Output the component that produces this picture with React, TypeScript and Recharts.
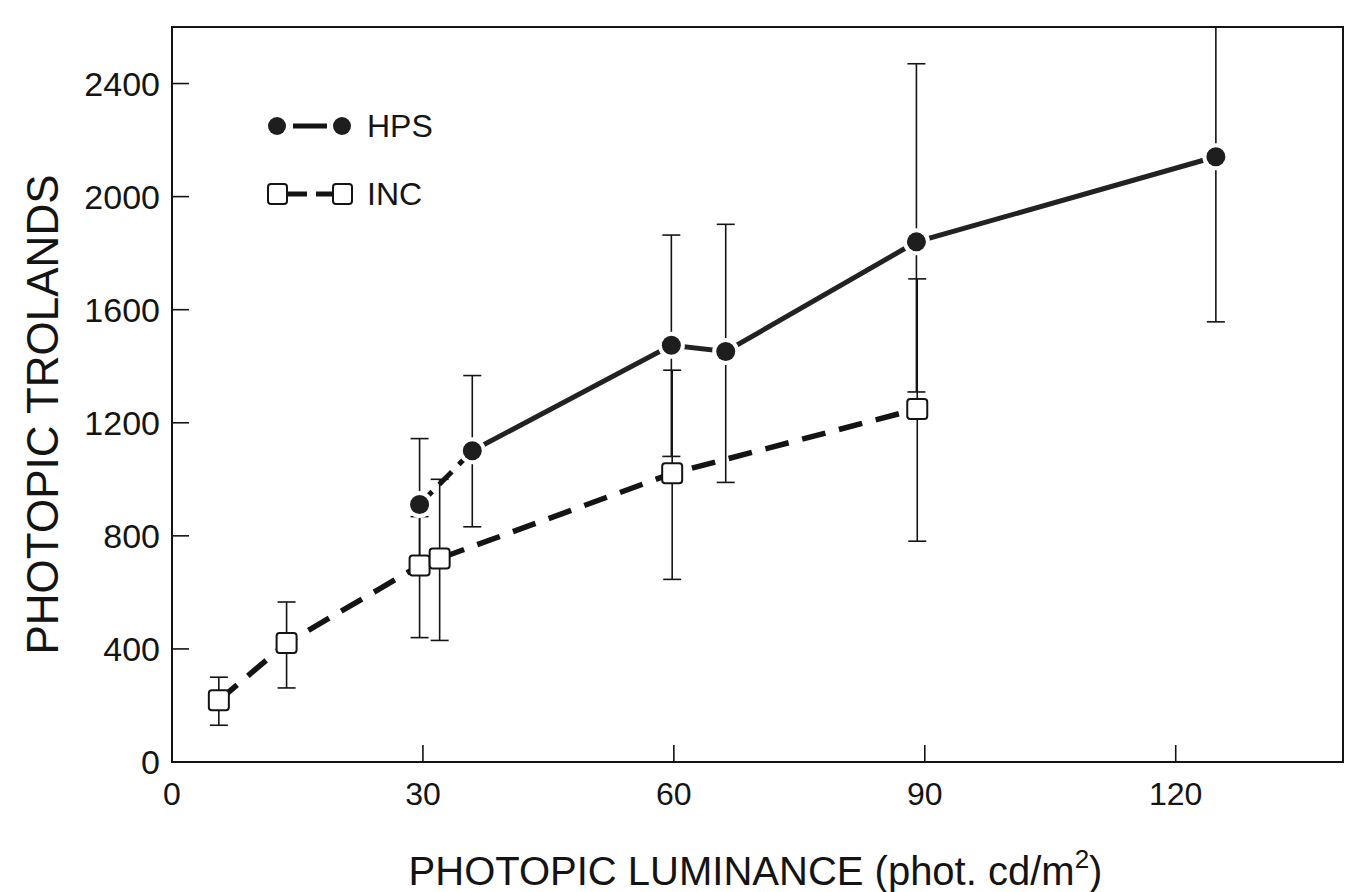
import React from "react"
import { ComposedChart, Line, XAxis, YAxis, ErrorBar, Legend, ReferenceArea } from "recharts"

// photopic luminance (phot. cd/m2) vs photopic trolands, mean with range
const incLuminance = [5.6, 13.7, 29.6, 32, 59.8, 89.1]
const incTrolands = [218, 421, 695, 720, 1021, 1249]
const incLow = [130, 262, 440, 430, 646, 781]
const incHigh = [300, 566, 868, 1000, 1386, 1709]

const hpsLuminance = [29.6, 35.9, 59.7, 66.2, 89, 124.8]
const hpsTrolands = [911, 1101, 1474, 1452, 1840, 2141]
const hpsLow = [695, 832, 1081, 989, 1309, 1557]
const hpsHigh = [1144, 1367, 1864, 1902, 2470, 2600]

const xTicks = [0, 30, 60, 90, 120]
const yTicks = [0, 400, 800, 1200, 1600, 2000, 2400]

const FONT = "'Liberation Sans', Arial, Helvetica, sans-serif"
const INK = "#141414"

function toRows(xs: number[], ys: number[], lo: number[], hi: number[]) {
  return xs.map((x, i) => ({ x, y: ys[i], err: [ys[i] - lo[i], hi[i] - ys[i]] }))
}

const incRows = toRows(incLuminance, incTrolands, incLow, incHigh)
const hpsRows = toRows(hpsLuminance, hpsTrolands, hpsLow, hpsHigh)

const HpsDot = (props: any) => {
  const { cx, cy, index } = props
  if (cx == null || cy == null) return <g key={`h-${index}`} />
  return (
    <circle
      key={`h-${index}`}
      cx={cx}
      cy={cy}
      r={9.5}
      fill="#1e1e1e"
      stroke="#fff"
      strokeWidth={8}
      paintOrder="stroke"
    />
  )
}

const IncDot = (props: any) => {
  const { cx, cy, index } = props
  if (cx == null || cy == null) return <g key={`i-${index}`} />
  return (
    <rect
      key={`i-${index}`}
      x={cx - 10}
      y={cy - 10}
      width={20}
      height={20}
      rx={3}
      fill="#fff"
      stroke={INK}
      strokeWidth={2}
    />
  )
}

const YTitle = (props: any) => {
  const vb = props.viewBox || { x: 0, y: 0, height: 0 }
  const cx = vb.x + 42
  const cy = vb.y + vb.height / 2 + 20
  return (
    <text
      x={cx}
      y={cy}
      transform={`rotate(-90, ${cx}, ${cy})`}
      textAnchor="middle"
      dominantBaseline="central"
      fontFamily={FONT}
      fontSize={44}
      fill={INK}
    >
      PHOTOPIC TROLANDS
    </text>
  )
}

const XTitle = (props: any) => {
  const vb = props.viewBox || { x: 0, y: 0, width: 0 }
  return (
    <text x={vb.x + vb.width / 2 - 2} y={885} textAnchor="middle" fontFamily={FONT} fontSize={40} fill={INK}>
      PHOTOPIC LUMINANCE (phot. cd/m
      <tspan dy={-17} fontSize={26}>2</tspan>
      <tspan dy={17}>)</tspan>
    </text>
  )
}

const renderLegend = (props: any) => {
  const names = (props.payload || []).map((p: any) => p.value)
  const order = ["HPS", "INC"].filter((n) => names.includes(n))
  return (
    <svg width={190} height={120}>
      {order.map((name, i) => {
        const y = 26 + i * 68
        if (name === "HPS") {
          return (
            <g key={name}>
              <circle cx={17} cy={y} r={9} fill="#1e1e1e" />
              <line x1={33} y1={y} x2={67} y2={y} stroke={INK} strokeWidth={5} />
              <circle cx={82} cy={y} r={9} fill="#1e1e1e" />
              <text x={107} y={y + 11} fontFamily={FONT} fontSize={32} fill={INK}>{name}</text>
            </g>
          )
        }
        return (
          <g key={name}>
            <line x1={27} y1={y} x2={73} y2={y} stroke={INK} strokeWidth={5} strokeDasharray="20 9" />
            <rect x={8} y={y - 10} width={19} height={20} rx={3} fill="#fff" stroke={INK} strokeWidth={2} />
            <rect x={73} y={y - 10} width={19} height={20} rx={3} fill="#fff" stroke={INK} strokeWidth={2} />
            <text x={107} y={y + 11} fontFamily={FONT} fontSize={32} fill={INK}>{name}</text>
          </g>
        )
      })}
    </svg>
  )
}

export default function App() {
  return (
    <div style={{ position: "absolute", left: 0, top: 0, width: 1351, height: 892, background: "#fff" }}>
      <ComposedChart width={1351} height={892} margin={{ top: 27, right: 8, bottom: 0, left: 0 }}>
        <XAxis
          type="number"
          dataKey="x"
          domain={[0, 140]}
          ticks={xTicks}
          interval={0}
          height={130}
          tickSize={-17}
          tickMargin={37}
          axisLine={{ stroke: INK, strokeWidth: 2 }}
          tickLine={{ stroke: INK, strokeWidth: 1.6 }}
          tick={{ fontSize: 32, fill: INK, fontFamily: FONT }}
          label={<XTitle />}
        />
        <YAxis
          type="number"
          domain={[0, 2600]}
          ticks={yTicks}
          interval={0}
          width={172}
          tickSize={-17}
          tickMargin={29}
          axisLine={{ stroke: INK, strokeWidth: 2 }}
          tickLine={{ stroke: INK, strokeWidth: 1.6 }}
          tick={{ fontSize: 34, fill: INK, fontFamily: FONT }}
          label={<YTitle />}
        />
        <ReferenceArea x1={0} x2={140} y1={0} y2={2600} fill="none" stroke={INK} strokeWidth={2} />
        <Legend
          layout="vertical"
          align="center"
          verticalAlign="middle"
          content={renderLegend}
          wrapperStyle={{ left: 260, top: 100, width: 190, height: 120 }}
        />

        <Line
          name="INC"
          data={incRows}
          dataKey="y"
          type="linear"
          stroke={INK}
          strokeWidth={5.5}
          strokeDasharray="24 14"
          dot={IncDot}
          activeDot={false}
          isAnimationActive={false}
        >
          <ErrorBar dataKey="err" direction="y" width={9} stroke={INK} strokeWidth={1.6} isAnimationActive={false} />
        </Line>

        <Line
          name="HPS lead"
          legendType="none"
          data={hpsRows.slice(0, 2)}
          dataKey="y"
          type="linear"
          stroke={INK}
          strokeWidth={5}
          strokeDasharray="18 10"
          dot={false}
          activeDot={false}
          isAnimationActive={false}
        />
        <Line
          name="HPS tail"
          legendType="none"
          data={hpsRows.slice(1)}
          dataKey="y"
          type="linear"
          stroke="#222"
          strokeWidth={5}
          dot={false}
          activeDot={false}
          isAnimationActive={false}
        />
        <Line
          name="HPS"
          data={hpsRows}
          dataKey="y"
          type="linear"
          stroke="none"
          dot={HpsDot}
          activeDot={false}
          isAnimationActive={false}
        />
        <Line
          name="HPS range"
          legendType="none"
          data={hpsRows}
          dataKey="y"
          type="linear"
          stroke="none"
          dot={false}
          activeDot={false}
          isAnimationActive={false}
        >
          <ErrorBar dataKey="err" direction="y" width={9} stroke={INK} strokeWidth={1.6} isAnimationActive={false} />
        </Line>
      </ComposedChart>
    </div>
  )
}
